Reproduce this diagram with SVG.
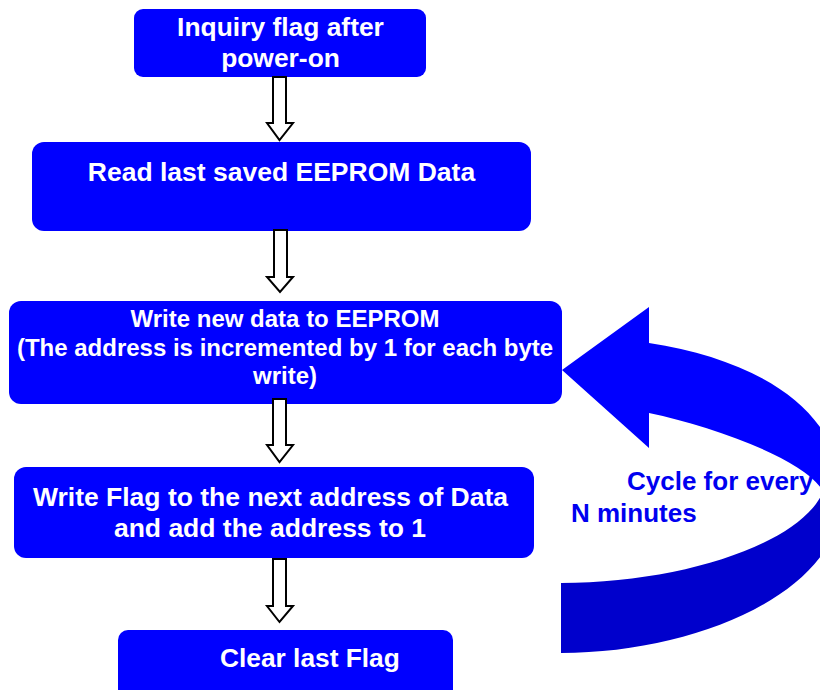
<svg xmlns="http://www.w3.org/2000/svg" width="820" height="690" viewBox="0 0 820 690">
<style>
.box{fill:#0000FF;}
.t{font-family:"Liberation Sans",Arial,sans-serif;font-weight:bold;fill:#FFFFFF;text-anchor:middle;}
.c{font-family:"Liberation Sans",Arial,sans-serif;font-weight:bold;fill:#0000F0;font-size:26px;}
.arr{fill:#FFFFFF;stroke:#000000;stroke-width:2;stroke-linejoin:miter;}
</style>
<rect width="820" height="690" fill="#FFFFFF"/>
<g id="label-cycle">
<text class="c" x="627" y="490">Cycle for every</text>
<text class="c" x="571" y="522">N minutes</text>
</g>
<g id="node1">
<rect class="box" x="134" y="9" width="292" height="68" rx="9"/>
<text class="t" x="280.5" y="36" font-size="26.4">Inquiry flag after</text>
<text class="t" x="280.5" y="67" font-size="26.4">power-on</text>
</g>
<g id="node2">
<rect class="box" x="32" y="142" width="499" height="89" rx="12"/>
<text class="t" x="281.5" y="181" font-size="26.5">Read last saved EEPROM Data</text>
</g>
<g id="node3">
<rect class="box" x="9" y="301" width="553" height="103" rx="12"/>
<text class="t" x="285" y="327" font-size="24">Write new data to EEPROM</text>
<text class="t" x="285" y="356" font-size="24">(The address is incremented by 1 for each byte</text>
<text class="t" x="285" y="384" font-size="24">write)</text>
</g>
<g id="node4">
<rect class="box" x="14" y="467" width="520" height="91" rx="12"/>
<text class="t" x="270.5" y="506" font-size="26.5">Write Flag to the next address of Data</text>
<text class="t" x="270" y="537" font-size="26.5">and add the address to 1</text>
</g>
<g id="node5">
<rect class="box" x="118" y="630" width="335" height="75" rx="10"/>
<text x="220" y="667" font-size="26.3" font-family="Liberation Sans, Arial, sans-serif" font-weight="bold" fill="#FFFFFF">Clear last Flag</text>
</g>
<g id="connectors">
<polygon class="arr" points="273,77 286,77 286,123 293,123 279.5,140 267,123 273,123"/>
<polygon class="arr" points="274,230 287,230 287,277 293,277 280,292 267,277 274,277"/>
<polygon class="arr" points="273,399 286,399 286,445 293,445 279.5,462 267,445 273,445"/>
<polygon class="arr" points="273,559 286,559 286,606 293,606 279.5,622 267,606 273,606"/>
<g id="cycle-arrow">
<path fill="#0000FF" d="M842,497 C842,410 759,360 649,343 L649,307 L562,370 L649,448 L649,413 C712,426 800,458 821,488 L821,497 Z"/>
<path fill="#0000CC" d="M842,496 C842,590 700,653 561,653 L561,583 C680,583 795,545 821,496 Z"/>
</g>
</g>
</svg>
